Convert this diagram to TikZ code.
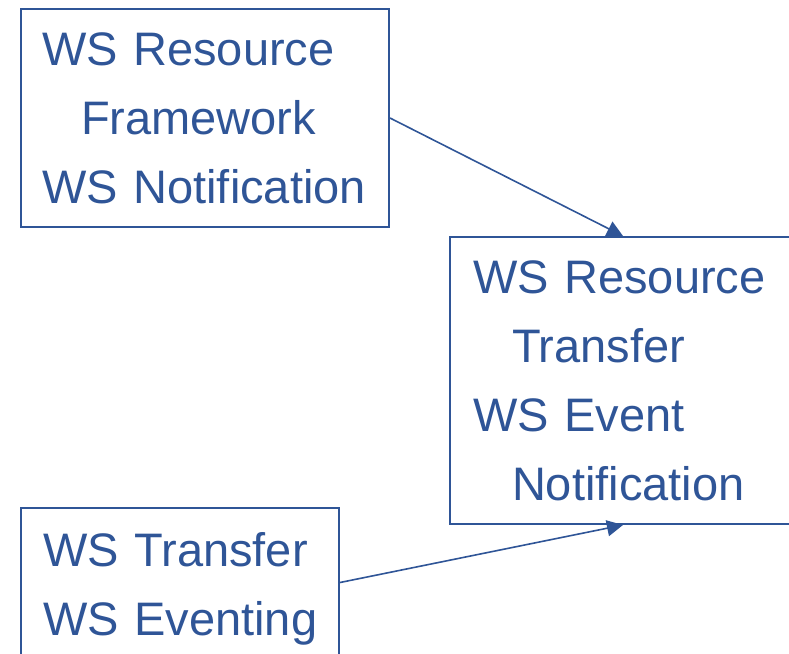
\documentclass[tikz,border=0pt]{standalone}
\usepackage{fontspec}
\setmainfont{Liberation Sans}
\usepackage{xcolor}
\usepackage{tikz}
\usetikzlibrary{arrows.meta,positioning}

\definecolor{wsblue}{HTML}{2F5597}

\begin{document}
\begin{tikzpicture}[x=1pt, y=-1pt,
    spec/.style={rectangle, draw=wsblue, line width=2pt, text=wsblue, align=left, anchor=north west, inner ysep=0pt, font=\fontsize{47}{69}\selectfont},
    arrow/.style={draw=wsblue, line width=1.6pt, -{Triangle[length=16pt, width=16pt]}}
]
    \useasboundingbox (0,0) rectangle (789,653);
    \node[spec, inner xsep=21pt, text width=326pt, minimum height=218pt] (wsrf) at (20,8) {\mbox{WS Resource}\\\hspace*{39pt}\mbox{Framework}\\\mbox{WS Notification}};
    \node[spec, inner xsep=23pt, text width=300pt, minimum height=287pt] (wsrt) at (449,236) {\mbox{WS Resource}\\\hspace*{39pt}\mbox{Transfer}\\\mbox{WS Event}\\\hspace*{39pt}\mbox{Notification}};
    \node[spec, inner xsep=22pt, text width=274pt, minimum height=161pt] (wst) at (20,507) {\mbox{WS Transfer}\\\mbox{WS Eventing}};
    \path [arrow] (wsrf.east) -- (wsrt.north);
    \path [arrow] ([yshift=6pt]wst.east) -- (wsrt.south);
\end{tikzpicture}
\end{document}
